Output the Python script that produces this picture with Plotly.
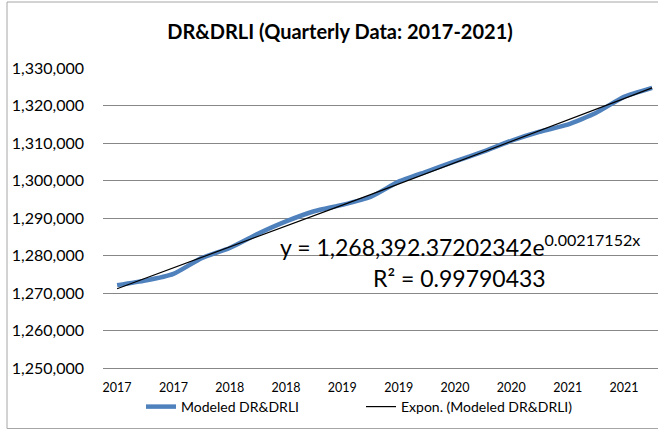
import math
import plotly.graph_objects as go

# ---- data ----
quarter_index = list(range(1, 21))
quarter_years = ["2017"] * 4 + ["2018"] * 4 + ["2019"] * 4 + ["2020"] * 4 + ["2021"] * 4
modeled = [1272100, 1273300, 1275100, 1279300, 1282000, 1285800, 1289100, 1291800,
           1293500, 1295600, 1299700, 1302400, 1305100, 1307700, 1310600, 1313000,
           1314900, 1318000, 1322300, 1324700]
trend_a = 1268392.37202342
trend_b = 0.00217152
r_squared = "0.99790433"

trend = [trend_a * math.exp(trend_b * x) for x in quarter_index]

tick_vals = quarter_index[::2]
tick_text = quarter_years[::2]
y_ticks = [1250000 + 10000 * i for i in range(9)]

FONT = "Lato"
W, H = 658, 430
L, R, T, B = 103, 0, 68, 62
pw, ph = W - L - R, H - T - B

fig = go.Figure()
fig.add_trace(go.Scatter(
    x=quarter_index, y=modeled, mode="lines", name="Modeled DR&DRLI",
    line=dict(color="#4F81BD", width=4.5, shape="spline", smoothing=0.5),
))
fig.add_trace(go.Scatter(
    x=quarter_index, y=trend, mode="lines", name="Expon. (Modeled DR&DRLI)",
    line=dict(color="#000000", width=1.2),
))

fig.update_layout(
    width=W, height=H,
    margin=dict(l=L, r=R, t=T, b=B, autoexpand=False),
    paper_bgcolor="white", plot_bgcolor="white",
    font=dict(family=FONT, color="#000000"),
    title=dict(text="<b>DR&DRLI (Quarterly Data: 2017-2021)</b>",
               x=340 / W, xanchor="center", y=1 - 32 / H, yanchor="middle",
               font=dict(size=20, family=FONT, color="#000000")),
    showlegend=True,
    legend=dict(orientation="h", x=(141 - L) / pw, xanchor="left",
                y=(H - B - 407) / ph, yanchor="middle",
                font=dict(size=14, family=FONT), bgcolor="rgba(0,0,0,0)",
                itemwidth=30, tracegroupgap=0, entrywidth=175),
    xaxis=dict(range=[0.5, 0.5 + pw / 28.16], tickvals=tick_vals, ticktext=tick_text,
               showgrid=False, zeroline=False, showline=True, linecolor="#878787",
               linewidth=1, ticks="", tickfont=dict(size=12.5, family=FONT),
               ticklabelstandoff=8, automargin=False),
    yaxis=dict(range=[1250000, 1330000], tickvals=y_ticks,
               tickformat=",d", showgrid=True, gridcolor="#878787", gridwidth=1,
               zeroline=False, showline=False, ticks="",
               tickfont=dict(size=16, family=FONT), ticklabelstandoff=18,
               automargin=False),
)

# equation + R^2 annotations
fig.add_annotation(
    xref="paper", yref="paper", x=(460 - L) / pw, y=(H - B - 246) / ph,
    text="y = 1,268,392.37202342e<sup>0.00217152x</sup>",
    showarrow=False, xanchor="center", yanchor="middle",
    font=dict(size=23, family=FONT, color="#000000"))
fig.add_annotation(
    xref="paper", yref="paper", x=(459 - L) / pw, y=(H - B - 278) / ph,
    text="R² = " + r_squared,
    showarrow=False, xanchor="center", yanchor="middle",
    font=dict(size=23, family=FONT, color="#000000"))

# chart-area border
fig.add_shape(type="rect", xref="paper", yref="paper",
              x0=(7 - L) / pw, x1=(680 - L) / pw,
              y0=(H - B - 428.5) / ph, y1=(H - B - 2) / ph,
              line=dict(color="#A6A6A6", width=1), layer="below")

fig.write_html("out.html", config={"displayModeBar": False},
               post_script="document.body.style.margin='0px';document.body.style.overflow='hidden';")
